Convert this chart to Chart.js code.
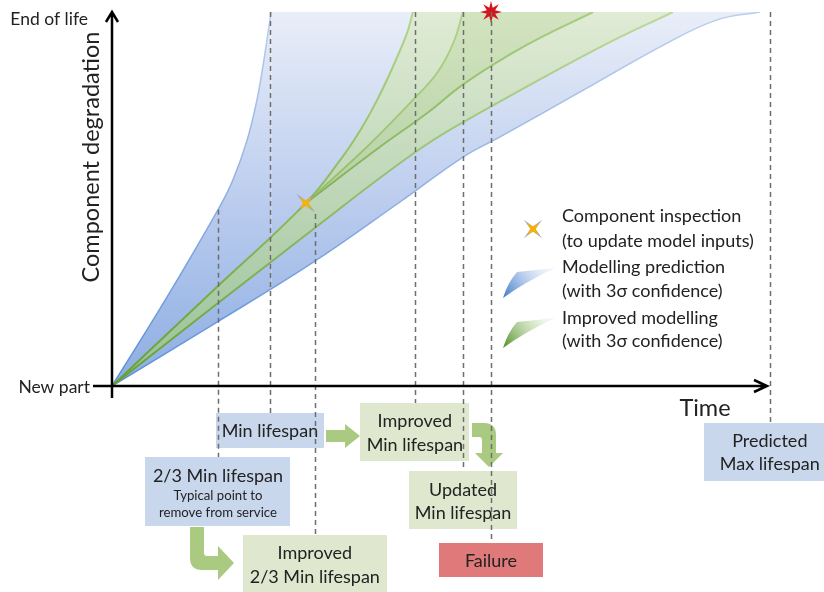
<!DOCTYPE html>
<html>
<head>
<meta charset="utf-8">
<script src="https://cdn.jsdelivr.net/npm/chart.js@4.4.0/dist/chart.umd.min.js"></script>
<style>
  body { margin: 0; background: #fff; }
  #wrap { position: relative; width: 824px; height: 592px; }
</style>
</head>
<body>
<div id="wrap"><canvas id="chart"></canvas></div>
<script>
const EOL = 100; // "End of life" level, new part = 0

// modelling prediction (blue band)
const blueUpperX = [0, 8.2, 16.3, 18.6, 20.8, 22.3, 23.2, 24.0, 24.5];
const blueUpperY = [0, 23.0, 47.1, 55.1, 65.8, 76.5, 85.3, 94.4, 100];
const blueLowerX = [0, 15.4, 30.8, 44.3, 54.0, 59.7, 72.5, 85.4, 93.1, 99.7];
const blueLowerY = [0, 16.3, 32.9, 49.2, 61.2, 66.6, 79.1, 91.7, 97.9, 100];

// improved modelling (green band), upper bound runs through the inspection point
const greenUpperX = [0, 15.0, 29.8, 35.1, 38.2, 40.8, 43.2, 45.4, 46.3];
const greenUpperY = [0, 24.6, 48.9, 60.4, 68.4, 76.5, 85.3, 94.4, 100];
const greenLowerX = [0, 30.8, 47.8, 58.2, 75.1, 86.3];
const greenLowerY = [0, 41.7, 63.9, 74.6, 90.6, 100];

// updated curves after the inspection
const updUpperX = [29.8, 39.2, 46.3, 50.0, 52.5, 54.0];
const updUpperY = [48.9, 63.9, 76.5, 83.7, 91.7, 100];
const updLowerX = [29.8, 41.2, 48.5, 54.3, 63.8, 74.0];
const updLowerY = [48.9, 63.9, 73.0, 81.0, 91.2, 100];

const inspection = { x: 29.8, y: 48.9 };
const failure = { x: 58.3, y: 100 };

// lifespan markers (dashed lines) and their boxes
const markerX   = [16.3, 24.3, 31.2, 46.6, 54.0, 58.3, 101.2];
const markerTop = [47.1, 100, 46.0, 100, 100, 100, 100];
const markerText = [
  ['2/3 Min lifespan', 'Typical point to', 'remove from service'],
  ['Min lifespan'],
  ['Improved', '2/3 Min lifespan'],
  ['Improved', 'Min lifespan'],
  ['Updated', 'Min lifespan'],
  ['Failure'],
  ['Predicted', 'Max lifespan']
];

const legendText = [
  'Component inspection', '(to update model inputs)',
  'Modelling prediction', '(with 3σ confidence)',
  'Improved modelling', '(with 3σ confidence)'
];

const FONT = 'Lato, "Open Sans", sans-serif';
const BLUE_BOX = '#c9d7ec';
const GREEN_BOX = '#dfe8cf';
const RED_BOX = '#e07a7a';
const ARROW = '#a9ca80';

const toXY = (xs, ys) => xs.map((x, i) => ({ x: x, y: ys[i] }));

// upper curve continued along the End of life level, used as a fill target
const alongTop = (xs, ys, endX) => {
  const last = xs[xs.length - 1];
  return toXY(xs.concat([last + 0.05, endX]), ys.concat([EOL, EOL]));
};

const vGrad = (c0, c1) => (ctx) => {
  const area = ctx.chart.chartArea;
  if (!area) return c0;
  const g = ctx.chart.ctx.createLinearGradient(0, area.bottom, 0, area.top);
  g.addColorStop(0, c0);
  g.addColorStop(1, c1);
  return g;
};

const hideTop = { borderColor: (s) => (s.p0.parsed.y >= EOL && s.p1.parsed.y >= EOL) ? 'rgba(0,0,0,0)' : undefined };

function starImage(points, rot, layers) {
  const size = Math.max(...layers.map(l => l.rOut)) * 2 + 4;
  const c = document.createElement('canvas');
  c.width = size; c.height = size;
  const g = c.getContext('2d');
  layers.forEach(l => {
    g.beginPath();
    for (let i = 0; i < points * 2; i++) {
      const r = i % 2 === 0 ? l.rOut : l.rIn;
      const a = rot + i * Math.PI / points;
      const px = size / 2 + r * Math.sin(a);
      const py = size / 2 - r * Math.cos(a);
      if (i === 0) g.moveTo(px, py); else g.lineTo(px, py);
    }
    g.closePath();
    g.fillStyle = l.color;
    g.fill();
  });
  return c;
}

const inspectStar = starImage(4, Math.PI / 4, [
  { rOut: 13, rIn: 2.4, color: 'rgba(150,150,150,0.85)' },
  { rOut: 8.5, rIn: 2.8, color: '#f2b20f' }
]);
const failStar = starImage(8, 0, [
  { rOut: 11, rIn: 4.5, color: '#d3161c' }
]);

const overlay = {
  id: 'overlay',
  afterDraw(chart) {
    const c = chart.ctx;
    const xs = chart.scales.x, ys = chart.scales.y;
    const x0 = xs.getPixelForValue(0), y0 = ys.getPixelForValue(0), yTop = ys.getPixelForValue(EOL);
    c.save();

    // boxes under the time axis
    const boxes = [
      { top: 457, w: 145, h: 69, fill: BLUE_BOX, lines: [[476, 18], [496, 13.2], [513, 13.2]] },
      { top: 413, w: 108, h: 35, fill: BLUE_BOX, lines: [[431, 18]] },
      { top: 535, w: 144, h: 60, fill: GREEN_BOX, lines: [[553, 18], [577, 18]] },
      { top: 403, w: 109, h: 58, fill: GREEN_BOX, lines: [[421, 18], [445, 18]] },
      { top: 471, w: 108, h: 58, fill: GREEN_BOX, lines: [[490, 18], [513, 18]] },
      { top: 543, w: 104, h: 34, fill: RED_BOX, lines: [[561, 18]] },
      { top: 423, w: 124, h: 58, fill: BLUE_BOX, lines: [[441, 18], [464, 18]], dx: -4 }
    ];
    boxes.forEach((b, i) => {
      const cx = xs.getPixelForValue(markerX[i]) + (b.dx || 0);
      c.fillStyle = b.fill;
      c.fillRect(Math.round(cx - b.w / 2), b.top, b.w, b.h);
    });

    // arrows
    c.fillStyle = ARROW;
    c.beginPath();
    c.moveTo(326, 430); c.lineTo(345, 430); c.lineTo(345, 424); c.lineTo(360, 436);
    c.lineTo(345, 448); c.lineTo(345, 442); c.lineTo(326, 442); c.closePath();
    c.fill();
    c.beginPath();
    c.moveTo(472, 423); c.lineTo(484, 423); c.quadraticCurveTo(496, 423, 496, 435);
    c.lineTo(496, 453); c.lineTo(503, 453); c.lineTo(489, 467); c.lineTo(475, 453);
    c.lineTo(482, 453); c.lineTo(482, 440); c.quadraticCurveTo(482, 437, 479, 437);
    c.lineTo(472, 437); c.closePath();
    c.fill();
    c.beginPath();
    c.moveTo(190, 527); c.lineTo(204, 527); c.lineTo(204, 553); c.quadraticCurveTo(204, 556, 207, 556);
    c.lineTo(218, 556); c.lineTo(218, 546); c.lineTo(234, 563); c.lineTo(218, 580);
    c.lineTo(218, 570); c.lineTo(202, 570); c.quadraticCurveTo(190, 570, 190, 558); c.closePath();
    c.fill();

    // box text
    c.fillStyle = '#222';
    c.textAlign = 'center';
    c.textBaseline = 'middle';
    boxes.forEach((b, i) => {
      const cx = xs.getPixelForValue(markerX[i]);
      markerText[i].forEach((t, k) => {
        c.font = b.lines[k][1] + 'px ' + FONT;
        c.fillText(t, cx, b.lines[k][0]);
      });
    });

    // dashed lifespan markers
    c.strokeStyle = '#6e6e6e';
    c.lineWidth = 1.5;
    c.setLineDash([5, 4]);
    markerX.forEach((mx, i) => {
      const px = Math.round(xs.getPixelForValue(mx)) + 0.5;
      c.beginPath();
      c.moveTo(px, ys.getPixelForValue(markerTop[i]));
      c.lineTo(px, boxes[i].top);
      c.stroke();
    });
    c.setLineDash([]);

    // axes with open arrow heads
    c.strokeStyle = '#000';
    c.lineWidth = 2.5;
    c.beginPath();
    c.moveTo(x0, y0 + 12); c.lineTo(x0, yTop);
    c.moveTo(x0 - 6, yTop + 10); c.lineTo(x0, yTop); c.lineTo(x0 + 6, yTop + 10);
    c.moveTo(93, y0); c.lineTo(767, y0);
    c.moveTo(754, y0 - 6); c.lineTo(767, y0); c.lineTo(754, y0 + 6);
    c.stroke();

    // axis labels
    c.fillStyle = '#222';
    c.font = '17.5px ' + FONT;
    c.textAlign = 'right';
    c.fillText('End of life', 88, yTop + 7);
    c.fillText('New part', 90, y0 + 1);
    c.textAlign = 'center';
    c.font = '23.5px ' + FONT;
    c.fillText('Time', 705, 408);
    c.save();
    c.translate(91, 157);
    c.rotate(-Math.PI / 2);
    c.fillText('Component degradation', 0, 0);
    c.restore();

    // legend
    c.drawImage(inspectStar, 533 - inspectStar.width / 2, 229 - inspectStar.height / 2);
    const wedge = (tipY, dark, light) => {
      const g = c.createLinearGradient(503, tipY, 545, tipY - 30);
      g.addColorStop(0, dark);
      g.addColorStop(1, light);
      c.fillStyle = g;
      c.beginPath();
      c.moveTo(503, tipY);
      c.quadraticCurveTo(508, tipY - 16, 517, tipY - 26);
      c.lineTo(555, tipY - 30);
      c.quadraticCurveTo(525, tipY - 16, 503, tipY);
      c.closePath();
      c.fill();
    };
    wedge(298, '#3d78cc', 'rgba(205,220,242,0.35)');
    wedge(348, '#4f8f25', 'rgba(215,232,195,0.35)');
    c.fillStyle = '#222';
    c.textAlign = 'left';
    c.font = '18px ' + FONT;
    [216, 241, 267, 291, 318, 341].forEach((y, i) => c.fillText(legendText[i], 562, y));

    c.restore();
  }
};

const chart = new Chart(document.getElementById('chart'), {
  type: 'line',
  data: {
    datasets: [
      {
        label: 'Modelling prediction (lower)',
        data: toXY(blueLowerX, blueLowerY),
        borderColor: vGrad('#5b8fd6', '#bccdee'),
        borderWidth: 1.5,
        fill: { target: 1 },
        backgroundColor: (ctx) => {
          const area = ctx.chart.chartArea;
          if (!area) return '#b8cbed';
          const g = ctx.chart.ctx.createLinearGradient(0, area.bottom, 0, area.top);
          g.addColorStop(0, '#8cade3');
          g.addColorStop(0.5, '#bccdee');
          g.addColorStop(1, '#e9eef8');
          return g;
        },
        order: 10
      },
      {
        label: 'Modelling prediction (upper)',
        data: alongTop(blueUpperX, blueUpperY, blueLowerX[blueLowerX.length - 1]),
        borderColor: vGrad('#5b8fd6', '#bccdee'),
        borderWidth: 1.5,
        segment: hideTop,
        fill: false,
        order: 9
      },
      {
        label: 'Improved modelling (lower)',
        data: toXY(greenLowerX, greenLowerY),
        borderColor: vGrad('#64a032', '#bcd99a'),
        borderWidth: 2,
        fill: { target: 3 },
        backgroundColor: vGrad('rgba(160,205,100,0.6)', 'rgba(218,234,190,0.6)'),
        order: 8
      },
      {
        label: 'Improved modelling (upper)',
        data: alongTop(greenUpperX, greenUpperY, greenLowerX[greenLowerX.length - 1]),
        borderColor: vGrad('#64a032', '#b3d48e'),
        borderWidth: 2,
        segment: hideTop,
        fill: false,
        order: 7
      },
      {
        label: 'Updated (lower)',
        data: toXY(updLowerX, updLowerY),
        borderColor: vGrad('#5a9530', '#a8cc80'),
        borderWidth: 2,
        fill: { target: 5 },
        backgroundColor: 'rgba(140,185,80,0.16)',
        order: 6
      },
      {
        label: 'Updated (upper)',
        data: alongTop(updUpperX, updUpperY, updLowerX[updLowerX.length - 1]),
        borderColor: vGrad('#78ab45', '#b0d189'),
        borderWidth: 1.8,
        segment: hideTop,
        fill: false,
        order: 5
      },
      {
        label: 'Component inspection',
        data: [inspection],
        showLine: false,
        pointStyle: inspectStar,
        pointRadius: 10,
        clip: false,
        order: 1
      },
      {
        label: 'Failure',
        data: [failure],
        showLine: false,
        pointStyle: failStar,
        pointRadius: 10,
        clip: false,
        order: 1
      }
    ]
  },
  options: {
    responsive: true,
    maintainAspectRatio: false,
    animation: false,
    layout: { padding: { left: 112, right: 62, top: 12, bottom: 206 } },
    scales: {
      x: { type: 'linear', min: 0, max: 100, display: false },
      y: { min: 0, max: 100, display: false }
    },
    elements: {
      point: { radius: 0, hoverRadius: 0 },
      line: { tension: 0.4 }
    },
    plugins: {
      legend: { display: false },
      tooltip: { enabled: false }
    }
  },
  plugins: [overlay]
});
</script>
</body>
</html>
